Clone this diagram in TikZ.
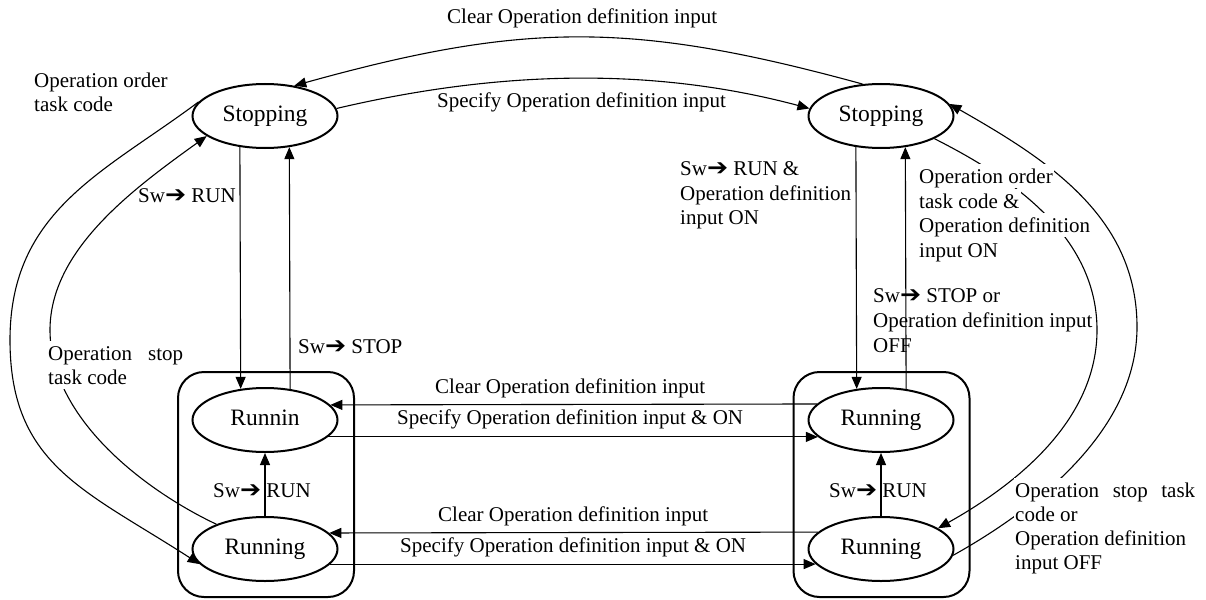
\documentclass[tikz,border=0pt]{standalone}
\usepackage{graphicx}
\usepackage{fontspec}
\setmainfont{Liberation Serif}
\newfontfamily\dingfont{DejaVu Sans}
\usetikzlibrary{shapes.geometric,arrows.meta}
\newcommand\swarr{Sw{\dingfont\scalebox{1.2}[1.1]{➔}}}

\begin{document}
\begin{tikzpicture}[x=1pt,y=-1pt,
  every node/.style={font=\fontsize{21pt}{24.5pt}\selectfont},
  state/.style={ellipse, draw, line width=2pt, fill=white,
    minimum width=145pt, minimum height=64pt, inner sep=0pt,
    font=\fontsize{23.5pt}{28pt}\selectfont, text height=16pt, text depth=5pt},
  group/.style={draw, line width=2pt, rounded corners=26pt,
    minimum width=176pt, minimum height=225pt, inner sep=0pt},
  conn/.style={line width=1.1pt},
  arr/.style={conn, -{Triangle[length=12pt,width=10pt]}},
  lab/.style={anchor=base west, inner sep=0pt},
  cov/.style={lab, fill=white, inner xsep=1.5pt, inner ysep=0pt,
    text height=19pt, text depth=5pt}
]
\useasboundingbox (0,0) rectangle (1206,599);

% groups of running states
\node[group] (boxL) at (266,484.5) {};
\node[group] (boxR) at (881.5,484.5) {};

% states
\node[state] (stopL) at (265,116) {Stopping};
\node[state] (stopR) at (881,116) {Stopping};
\node[state] (runLt) at (265,420) {Runnin};
\node[state] (runLb) at (265,549) {Running};
\node[state] (runRt) at (881,420) {Running};
\node[state] (runRb) at (881,549) {Running};

% helper points of the side loops
\coordinate (lo) at (10,340);
\coordinate (li) at (50,330);
\coordinate (ri) at (1097,330);
\coordinate (ro) at (1137,327);

% vertical transitions
\draw[arr] (stopL.231.5) -- (runLt.128.5);
\draw[arr] (runLt.51.5) -- (stopL.308.5);
\draw[arr] (stopR.231.5) -- (runRt.128.5);
\draw[arr] (runRt.51.5) -- (stopR.308.5);
\draw[arr] (runLb.north) -- (runLt.south);
\draw[arr] (runRb.north) -- (runRt.south);

% horizontal transitions
\draw[arr] (runRt.166.7) -- (runLt.13.3);
\draw[arr] (runLt.-15.6) -- (runRt.195.6);
\draw[arr] (runRb.165.6) -- (runLb.14.4);
\draw[arr] (runLb.-13.3) -- (runRb.193.3);

% arcs between the stopping states
\draw[arr] (stopR.120) .. controls +(-230,-63) and +(230,-64) .. (stopL.46);
\draw[arr] (stopL.6) .. controls +(170,-40) and +(-150,-40) .. (stopR.174);

% side loops
\draw[arr] (stopL.168) .. controls (105,172) and (10,210) .. (lo)
  .. controls (10,465) and (85,490) .. (runLb.193);
\draw[arr] (runLb.153) .. controls (148,492) and (50,420) .. (li)
  .. controls (50,250) and (133,189) .. (stopL.199);
\draw[arr] (stopR.-23) .. controls (1000,172) and (1097,230) .. (ri)
  .. controls (1097,420) and (1017,484) .. (runRb.20);
\draw[arr] (runRb.-5) .. controls (1043,505) and (1137,427) .. (ro)
  .. controls (1137,217) and (1048,160) .. (stopR.10);

% labels
\node[lab] (t1) at (447,24) {Clear Operation definition input};
\node[lab] (t2) at (437,107) {Specify Operation definition input};
\node[lab] (t3a) at (34,88) {Operation order};
\node[lab] (t3b) at (34,112) {task code};
\node[lab] (t4) at (138,202) {\swarr\ RUN};
\node[lab] (t5) at (298,353) {\swarr\ STOP};
\node[cov] (t6a) at (46.5,360) {\makebox[135pt][s]{Operation stop}};
\node[cov] (t6b) at (46.5,384) {task code};
\node[lab] (t7) at (213,497) {\swarr\ RUN};
\node[lab] (t8) at (829,497) {\swarr\ RUN};
\node[lab] (t9) at (435,393) {Clear Operation definition input};
\node[lab] (t10) at (397,424) {Specify Operation definition input \& ON};
\node[lab] (t11) at (438,521) {Clear Operation definition input};
\node[lab] (t12) at (400,552) {Specify Operation definition input \& ON};
\node[lab] (t13a) at (680,175) {\swarr\ RUN \&};
\node[lab] (t13b) at (680,200) {Operation definition};
\node[lab] (t13c) at (680,224) {input ON};
\node[cov] (t14a) at (917.5,183) {Operation order};
\node[cov] (t14b) at (917.5,208) {task code \&};
\node[cov] (t14c) at (917.5,232) {Operation definition};
\node[cov] (t14d) at (917.5,257) {input ON};
\node[lab] (t15a) at (873,302) {\swarr\ STOP or};
\node[lab] (t15b) at (873,327) {Operation definition input};
\node[lab] (t15c) at (873,352) {OFF};
\node[cov] (t16a) at (1013.5,497) {\makebox[180pt][s]{Operation stop task}};
\node[cov] (t16b) at (1013.5,521) {code or};
\node[cov] (t16c) at (1013.5,545) {Operation definition};
\node[cov] (t16d) at (1013.5,569) {input OFF};
\end{tikzpicture}
\end{document}
